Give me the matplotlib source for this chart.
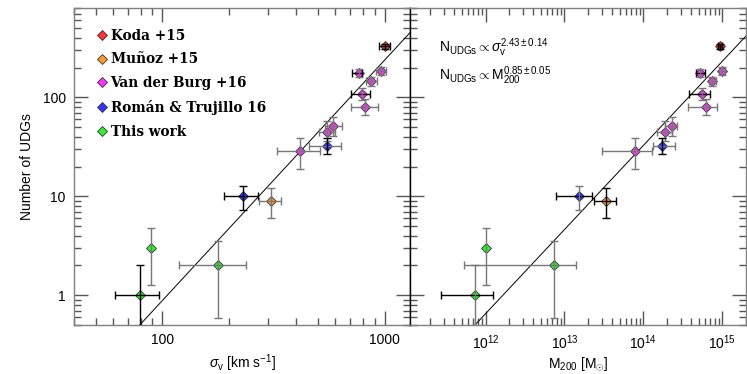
import numpy as np
import matplotlib
matplotlib.use('Agg')
import matplotlib.pyplot as plt
from matplotlib.ticker import LogLocator, FixedLocator, NullFormatter, FuncFormatter
from matplotlib.lines import Line2D

plt.rcParams['font.family'] = ['Liberation Sans', 'DejaVu Sans']
plt.rcParams['mathtext.fontset'] = 'custom'
plt.rcParams['mathtext.rm'] = 'Liberation Sans'
plt.rcParams['mathtext.it'] = 'Liberation Sans:italic'
plt.rcParams['mathtext.bf'] = 'Liberation Sans:bold'

# ---- data ----
groups = ['Koda +15', 'Muñoz +15', 'Van der Burg +16', 'Román & Trujillo 16', 'This work']
group_colors = ['#ff3333', '#ff9933', '#ff33ff', '#3333ff', '#33ee33']

# one entry per point: group index
point_group = [0, 2, 2, 2, 2, 2, 2, 2, 2, 3, 3, 1, 4, 4, 4]
n_udg = [327, 28.4, 45, 51, 176, 108, 80.6, 145, 186, 32, 10, 9, 1, 3, 2]
n_lo = [305, 18.7, 36, 41, 160, 93, 66, 130, 170, 27, 7.2, 6, 0.3, 1.26, 0.59]
n_hi = [350, 39, 57, 63, 193, 123, 97, 160, 203, 38.6, 12.7, 12, 2.0, 4.8, 3.5]

sigma = [1000, 417, 552, 588, 769, 788, 818, 871, 959, 550, 230, 308, 79, 89, 178]
sigma_lo = [945, 327, 508, 537, 711, 707, 703, 822, 912, 457, 190, 273, 61, 89, 119]
sigma_hi = [1055, 512, 597, 645, 794, 860, 933, 920, 1010, 638, 270, 341, 97, 89, 238]

logm = [14.97, 13.90, 14.27, 14.36, 14.72, 14.74, 14.80, 14.87, 15.00, 14.24, 13.18, 13.53, 11.87, 12.01, 12.87]
logm_lo = [14.94, 13.48, 14.17, 14.27, 14.67, 14.58, 14.57, 14.83, 14.96, 14.12, 12.89, 13.37, 11.43, 12.01, 11.72]
logm_hi = [15.00, 14.11, 14.36, 14.43, 14.78, 14.85, 14.93, 14.92, 15.04, 14.40, 13.35, 13.65, 12.09, 12.01, 13.15]

# fits: N = 10**a * x**b
fit_sigma = (-4.913, 2.43)
fit_mass = (-10.386, 0.85)

# error bar colours per point (x, y) for each panel
BK, GR = 'black', '#777777'
errc_sigma = [(BK, BK), (GR, GR), (GR, GR), (GR, GR), (BK, GR), (BK, GR), (GR, GR), (GR, GR), (GR, GR),
              (GR, BK), (BK, BK), (GR, GR), (BK, BK), (GR, GR), (GR, GR)]
errc_mass = [(BK, BK), (GR, GR), (GR, GR), (GR, GR), (BK, GR), (BK, GR), (GR, GR), (GR, GR), (GR, GR),
             (GR, BK), (BK, GR), (BK, BK), (BK, GR), (GR, GR), (GR, GR)]

W, H = 747, 374
fig = plt.figure(figsize=(W / 100, H / 100), dpi=100)
axL = fig.add_axes([74 / W, 49 / H, 336 / W, 317 / H])
axR = fig.add_axes([410 / W, 49 / H, 336 / W, 317 / H])

n = np.array(n_udg)
yerr = np.array([n - np.array(n_lo), np.array(n_hi) - n])
s = np.array(sigma)
xerr_s = np.array([s - np.array(sigma_lo), np.array(sigma_hi) - s])
m = 10 ** np.array(logm)
xerr_m = np.array([m - 10 ** np.array(logm_lo), 10 ** np.array(logm_hi) - m])


def draw(ax, x, xerr, errc):
    for i in range(len(x)):
        c = group_colors[point_group[i]]
        ax.plot(x[i], n[i], marker='D', ms=5.5, mfc=c, mec='#333333', mew=0.6, ls='none', zorder=3)
        if xerr[0, i] + xerr[1, i] > 0:
            ax.errorbar(x[i], n[i], xerr=xerr[:, i:i + 1], fmt='none', ecolor=errc[i][0],
                        elinewidth=1.0, capsize=3, capthick=1.0, zorder=4)
        ax.errorbar(x[i], n[i], yerr=yerr[:, i:i + 1], fmt='none', ecolor=errc[i][1],
                    elinewidth=1.0, capsize=3, capthick=1.0, zorder=4)


draw(axL, s, xerr_s, errc_sigma)
draw(axR, m, xerr_m, errc_mass)

xs = np.logspace(1.5, 3.3, 50)
axL.plot(xs, 10 ** fit_sigma[0] * xs ** fit_sigma[1], color='black', lw=0.7, zorder=2)
xm = np.logspace(11, 15.5, 50)
axR.plot(xm, 10 ** fit_mass[0] * xm ** fit_mass[1], color='black', lw=0.7, zorder=2)

for ax in (axL, axR):
    ax.set_xscale('log')
    ax.set_yscale('log')
    ax.set_ylim(0.5, 800)
    ax.yaxis.set_major_locator(FixedLocator([1, 10, 100]))
    ax.yaxis.set_minor_locator(LogLocator(subs=np.arange(2, 10), numticks=100))
    ax.xaxis.set_minor_locator(LogLocator(subs=np.arange(2, 10), numticks=100))
    ax.tick_params(which='both', direction='in', top=True, right=True, labelsize=10,
                   color='#555555', width=1.0)
    ax.tick_params(which='major', length=10, pad=6)
    ax.tick_params(which='minor', length=5)
    for sp in ax.spines.values():
        sp.set_color('#808080')
        sp.set_linewidth(1.0)

axL.spines['right'].set_color('black')
axR.spines['left'].set_color('black')

axL.set_xlim(40, 1300)
axL.xaxis.set_major_locator(FixedLocator([100, 1000]))
axL.xaxis.set_major_formatter(FuncFormatter(lambda v, p: f'{v:g}'))
axL.xaxis.set_minor_formatter(NullFormatter())
axL.yaxis.set_major_formatter(FuncFormatter(lambda v, p: f'{v:g}'))
axL.yaxis.set_minor_formatter(NullFormatter())

axR.set_xlim(1.1e11, 2e15)
axR.xaxis.set_major_locator(FixedLocator([1e12, 1e13, 1e14, 1e15]))
axR.xaxis.set_major_formatter(FuncFormatter(lambda v, p: r'$10^{%d}$' % round(np.log10(v))))
axR.xaxis.set_minor_formatter(NullFormatter())
axR.yaxis.set_major_formatter(NullFormatter())
axR.yaxis.set_minor_formatter(NullFormatter())

axL.set_xlabel(r'$\sigma_{\rm v}$ [km s$^{-1}$]', fontsize=10, labelpad=4)
axL.set_ylabel('Number of UDGs', fontsize=10, labelpad=6)
axR.set_xlabel(r'M$_{200}$ [M$_{\odot}$]', fontsize=10, labelpad=2)

axR.text(0.085, 0.875, r'N$_{\rm UDGs}\propto\sigma_{\rm v}^{2.43\pm0.14}$', transform=axR.transAxes,
         fontsize=10, va='center')
axR.text(0.085, 0.785, r'N$_{\rm UDGs}\propto$M$_{200}^{0.85\pm0.05}$', transform=axR.transAxes,
         fontsize=10, va='center')

handles = [Line2D([], [], marker='D', ls='none', ms=5.5, mfc=c, mec='#333333', mew=0.6) for c in group_colors]
axL.legend(handles, groups, loc='upper left', bbox_to_anchor=(0.05, 0.952), frameon=False,
           handlelength=0.8, handletextpad=0.25, labelspacing=0.72, borderaxespad=0,
           prop={'family': 'DejaVu Serif', 'weight': 'bold', 'size': 9.8})

fig.savefig('out.png', dpi=100)
